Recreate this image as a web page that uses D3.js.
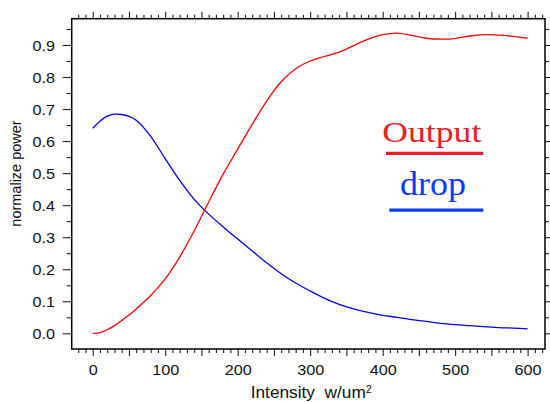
<!DOCTYPE html>
<html lang="en">
<head>
<meta charset="UTF-8">
<title>normalize power vs intensity</title>
<script src="https://cdn.jsdelivr.net/npm/d3@7"></script>
<style>
  body { margin: 0; background: #fff; }
  text { font-family: "Liberation Sans", Arial, sans-serif; fill: #111; }
</style>
</head>
<body>
<script>
// intensity (w/um^2) sample points
const intensity = [0, 10, 20, 30, 40, 50, 60, 80, 100, 120, 140, 160, 180, 200, 220, 240, 260, 280,
  300, 320, 340, 360, 380, 400, 420, 440, 460, 480, 500, 520, 540, 560, 580, 600];
// red curve
const output = [0.0, 0.002, 0.011, 0.024, 0.040, 0.057, 0.076, 0.118, 0.170, 0.238, 0.320, 0.410, 0.497,
  0.575, 0.652, 0.725, 0.785, 0.826, 0.850, 0.864, 0.878, 0.898, 0.918, 0.932, 0.937, 0.930, 0.921,
  0.918, 0.920, 0.928, 0.932, 0.931, 0.927, 0.921];
// blue curve
const drop = [0.64, 0.662, 0.678, 0.684, 0.683, 0.677, 0.665, 0.615, 0.545, 0.477, 0.418, 0.372, 0.332,
  0.294, 0.257, 0.220, 0.186, 0.157, 0.132, 0.109, 0.090, 0.076, 0.065, 0.056, 0.050, 0.043, 0.037,
  0.031, 0.027, 0.024, 0.021, 0.018, 0.016, 0.014];

const xTickLabels = [0, 100, 200, 300, 400, 500, 600];
const yTickLabels = [0.0, 0.1, 0.2, 0.3, 0.4, 0.5, 0.6, 0.7, 0.8, 0.9];
const legendNames = ["Output", "drop"];

const width = 550, height = 402;
const mLeft = 71.7, mRight = 545, mTop = 18.7, mBottom = 349;
const sx = 1.08; // glyphs in the picture look a little wide

const svg = d3.select("body").append("svg")
  .attr("width", width)
  .attr("height", height);

const x = d3.scaleLinear([-29, 624], [mLeft, mRight]);
const y = d3.scaleLinear([-0.049, 0.982], [mBottom, mTop]);

const xMinor = d3.range(-20, 621, 10).filter(v => v % 50 !== 0);
const xMajor = d3.range(0, 601, 50);
const yMinor = d3.range(0.05, 0.96, 0.1).map(v => +v.toFixed(2));

function noLabels(g) { g.selectAll("text").remove(); g.select(".domain").remove(); }

// bottom axis
svg.append("g").attr("transform", `translate(0,${mBottom})`)
  .call(d3.axisBottom(x).tickValues(xMinor).tickSize(4)).call(noLabels);
svg.append("g").attr("transform", `translate(0,${mBottom})`)
  .call(d3.axisBottom(x).tickValues(xMajor).tickSize(7)
    .tickFormat(d => xTickLabels.includes(d) ? d : ""))
  .call(g => g.select(".domain").remove())
  .call(g => g.selectAll("text")
    .attr("y", 26).attr("dy", 0)
    .attr("font-size", 15)
    .attr("transform", `scale(${sx},1)`));

// top axis
svg.append("g").attr("transform", `translate(0,${mTop})`)
  .call(d3.axisTop(x).tickValues(xMinor).tickSize(4)).call(noLabels);
svg.append("g").attr("transform", `translate(0,${mTop})`)
  .call(d3.axisTop(x).tickValues(xMajor).tickSize(7)).call(noLabels);

// left axis
svg.append("g").attr("transform", `translate(${mLeft},0)`)
  .call(d3.axisLeft(y).tickValues(yMinor).tickSize(5)).call(noLabels);
svg.append("g").attr("transform", `translate(${mLeft},0)`)
  .call(d3.axisLeft(y).tickValues(yTickLabels).tickSize(9).tickFormat(d3.format(".1f")))
  .call(g => g.select(".domain").remove())
  .call(g => g.selectAll("text")
    .attr("x", -16.7 / sx).attr("dy", 5.3)
    .attr("font-size", 15)
    .attr("transform", `scale(${sx},1)`));

// right axis
svg.append("g").attr("transform", `translate(${mRight},0)`)
  .call(d3.axisRight(y).tickValues(yMinor).tickSize(4)).call(noLabels);
svg.append("g").attr("transform", `translate(${mRight},0)`)
  .call(d3.axisRight(y).tickValues(yTickLabels).tickSize(6)).call(noLabels);

svg.selectAll(".tick line").attr("stroke", "#222").attr("stroke-width", 1.1);

// frame
svg.append("rect")
  .attr("x", mLeft).attr("y", mTop)
  .attr("width", mRight - mLeft).attr("height", mBottom - mTop)
  .attr("fill", "none").attr("stroke", "#000").attr("stroke-width", 1.5);

// curves
const line = d3.line()
  .x((d, i) => x(intensity[i]))
  .y(d => y(d))
  .curve(d3.curveCatmullRom.alpha(0.5));

svg.append("path").attr("d", line(drop))
  .attr("fill", "none").attr("stroke", "#0000ff").attr("stroke-width", 1.3);
svg.append("path").attr("d", line(output))
  .attr("fill", "none").attr("stroke", "#ff0000").attr("stroke-width", 1.3);

// axis titles
svg.append("text")
  .attr("x", 250.7 / sx).attr("y", 398.3)
  .attr("font-size", 16)
  .attr("transform", `scale(${sx},1)`)
  .style("white-space", "pre")
  .text("Intensity  w/um")
  .append("tspan").attr("dy", -5.6).attr("font-size", 10).text("2");

svg.append("text")
  .attr("transform", "translate(20.5,173.5) rotate(-90)")
  .attr("text-anchor", "middle")
  .attr("font-size", 14.5)
  .text("normalize power");

// legend
svg.append("text")
  .attr("x", 382.3).attr("y", 141.7)
  .attr("textLength", 99).attr("lengthAdjust", "spacingAndGlyphs")
  .style("font-family", "'Liberation Serif', 'Times New Roman', serif")
  .style("fill", "#ed1c24")
  .attr("font-size", 30)
  .text(legendNames[0]);
svg.append("line")
  .attr("x1", 386).attr("x2", 483.3).attr("y1", 153.3).attr("y2", 153.3)
  .attr("stroke", "#ed1c24").attr("stroke-width", 3.3);

svg.append("text")
  .attr("x", 400).attr("y", 195)
  .attr("textLength", 66).attr("lengthAdjust", "spacingAndGlyphs")
  .style("font-family", "'Liberation Serif', 'Times New Roman', serif")
  .style("fill", "#0a3cff")
  .attr("font-size", 33)
  .text(legendNames[1]);
svg.append("line")
  .attr("x1", 389.3).attr("x2", 483.3).attr("y1", 210.2).attr("y2", 210.2)
  .attr("stroke", "#0a3cff").attr("stroke-width", 3.3);
</script>
</body>
</html>
